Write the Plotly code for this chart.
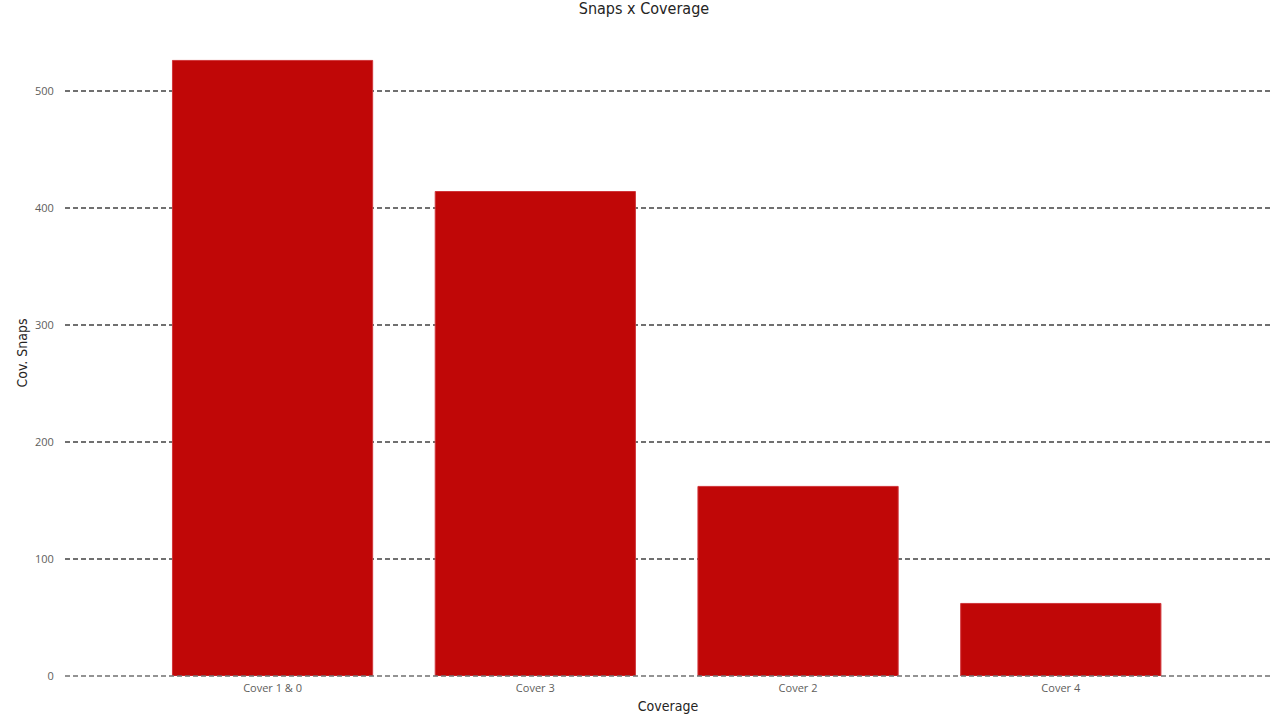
import plotly.graph_objects as go

categories = ["Cover 1 & 0", "Cover 3", "Cover 2", "Cover 4"]
snaps = [526, 414, 162, 62]
y_ticks = [0, 100, 200, 300, 400, 500]

fig = go.Figure(
    go.Bar(
        x=categories,
        y=snaps,
        marker=dict(color="#C00707", line=dict(color="#D0353A", width=1)),
        hovertemplate="%{x}: %{y}<extra></extra>",
    )
)

fig.update_layout(
    width=1279,
    height=717,
    margin=dict(l=65, r=8, t=30, b=41),
    paper_bgcolor="white",
    plot_bgcolor="white",
    bargap=0.238,
    showlegend=False,
    title=dict(
        text="Snaps x Coverage",
        x=0.5035,
        xanchor="center",
        yref="container",
        y=1,
        yanchor="top",
        pad=dict(t=3),
        font=dict(family="DejaVu Sans Condensed, DejaVu Sans", size=16, color="#252423"),
    ),
    font=dict(family="Open Sans, Noto Sans", color="#605E5C"),
    shapes=[
        dict(
            type="line", xref="paper", yref="paper", x0=0, x1=1, y0=0, y1=0,
            line=dict(color="#707070", width=1.5, dash="5px,3px"), layer="above",
        )
    ],
)

fig.update_xaxes(
    range=[-0.79, 3.80],
    automargin=False,
    showgrid=False,
    showline=False,
    zeroline=False,
    ticks="outside",
    ticklen=2,
    tickcolor="rgba(0,0,0,0)",
    tickfont=dict(size=11, color="#605E5C"),
    title=dict(
        text="Coverage",
        standoff=6,
        font=dict(family="DejaVu Sans Condensed, DejaVu Sans", size=14, color="#252423"),
    ),
)

fig.update_yaxes(
    range=[0, 552],
    automargin=False,
    tickvals=y_ticks,
    showgrid=True,
    gridcolor="#707070",
    griddash="5px,3px",
    gridwidth=1.5,
    zeroline=False,
    showline=False,
    ticks="outside",
    ticklen=8,
    tickcolor="rgba(0,0,0,0)",
    tickfont=dict(size=11, color="#605E5C"),
    title=dict(
        text="Cov. Snaps",
        standoff=4,
        font=dict(family="DejaVu Sans Condensed, DejaVu Sans", size=14, color="#252423"),
    ),
)

fig.write_html(
    "out.html",
    config={"displayModeBar": False},
    post_script="document.body.style.margin='0';",
)
